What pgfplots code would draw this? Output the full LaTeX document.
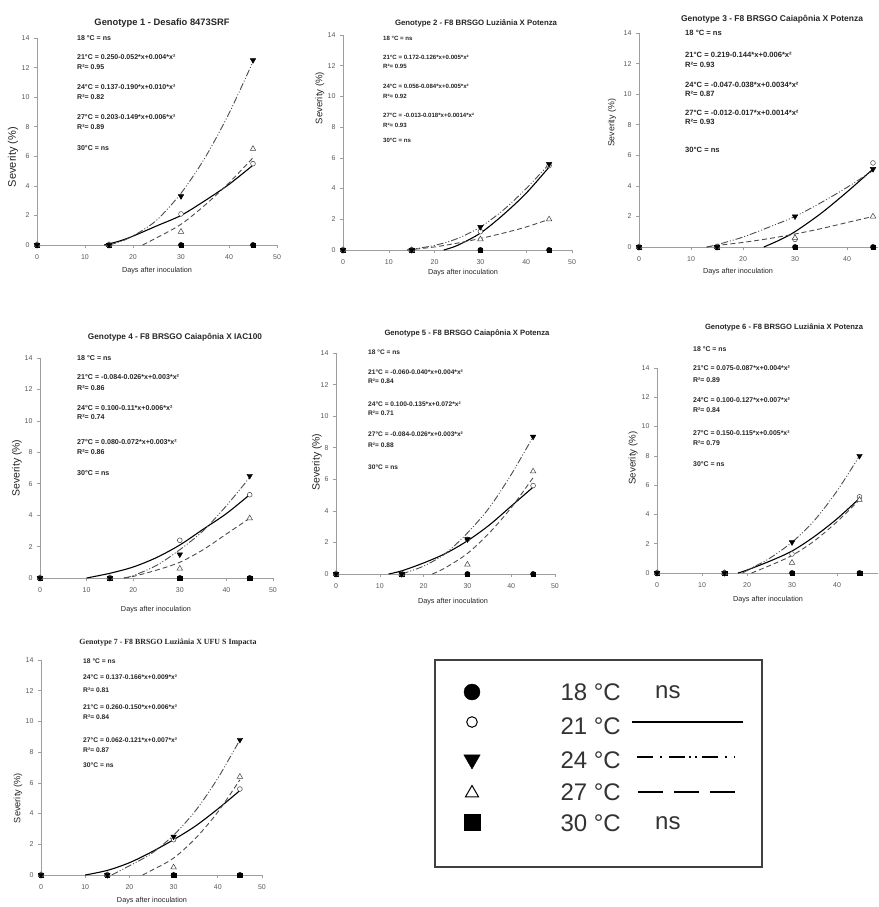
\documentclass[border=0pt]{standalone}
\usepackage{pgfplots}
\pgfplotsset{compat=1.18}
\usepackage{graphicx}
\usepackage{fontspec}
\setmainfont{Liberation Sans}
\newfontfamily\timesf{Liberation Serif}
\definecolor{axgray}{gray}{0.62}
\definecolor{txt}{gray}{0.15}
\definecolor{tick}{gray}{0.35}
\definecolor{c24}{gray}{0.3}
\definecolor{c27}{gray}{0.3}

\pgfplotsset{
 gen/.style={scale only axis, anchor=south west, xmin=0, xmax=50, ymin=0, ymax=14,
  axis x line=bottom, axis y line=left, axis line style={draw=axgray, line width=0.6pt, -},
  xtick={0,10,...,50}, ytick={0,2,...,14}, tick align=outside, major tick length=3pt,
  tick style={draw=axgray, line width=0.6pt},
  ticklabel style={font=\fontsize{7}{8}\selectfont, text=tick},
  xticklabel style={yshift=-3pt},
  yticklabel style={xshift=-1pt},
  /pgf/number format/assume math mode=true,
  clip=false},
 s21/.style={black, line width=1.1pt, smooth},
 s24/.style={c24, line width=0.9pt, smooth, dash pattern=on 7pt off 2pt on 1pt off 2pt on 1pt off 2pt},
 s27/.style={c27, line width=0.9pt, smooth, dash pattern=on 5pt off 3pt},
 m18/.style={only marks, mark=*, mark size=2.6pt, black},
 m30/.style={only marks, mark=square*, mark size=2.2pt, black},
 m21/.style={only marks, mark=*, mark size=2.4pt, mark options={fill=white, draw=gray!50!black, line width=0.5pt}},
 m24/.style={only marks, mark=triangle*, mark size=3.2pt, mark options={rotate=180, fill=black, draw=black}},
 m27/.style={only marks, mark=triangle*, mark size=3.2pt, mark options={fill=white, draw=gray!50!black, line width=0.5pt}},
}
\newcommand{\ann}[4]{\node[anchor=west, inner sep=0, font=\fontsize{#1}{#1}\selectfont\bfseries, text=txt] at (#2,#3) {#4};}
\newcommand{\ttl}[4]{\node[inner sep=0, text=txt] at (#1,#2) {\resizebox{#3pt}{!}{\bfseries #4}};}
\newcommand{\ylab}[3]{\node[inner sep=0, rotate=90, text=txt] at (#1,#2) {\resizebox{#3pt}{!}{Severity (\%)}};}
\newcommand{\xlab}[2]{\node[inner sep=0, text=txt] at (#1,#2) {\resizebox{70pt}{!}{Days after inoculation}};}
\newcommand{\zeros}{\addplot[m30] coordinates {(0,0)(15,0)(30,0)(45,0)};
 \addplot[m18] coordinates {(0,0)(15,0)(30,0)(45,0)};}

\begin{document}
\begin{tikzpicture}[x=1pt,y=-1pt]
\useasboundingbox (0,0) rectangle (878,907);
\clip (0,0) rectangle (878,907);
\fill[white] (0,0) rectangle (878,907);

% ---------- Panel 1
\begin{axis}[gen, at={(37pt,-245pt)}, width=240pt, height=207pt]
\addplot[s21] coordinates {(14,0)(17,0.25)(20,0.6)(25,1.3)(30,2.0)(35,3.0)(40,4.1)(45,5.4)};
\addplot[s24] coordinates {(15,0)(18,0.3)(21,0.8)(25,1.7)(30,3.5)(35,5.9)(40,8.9)(45,12.4)};
\addplot[s27] coordinates {(22,0)(25,0.5)(30,1.4)(35,2.7)(40,4.2)(45,5.9)};
\zeros
\addplot[m21] coordinates {(0,0)(15,0)(30,2.1)(45,5.5)};
\addplot[m27] coordinates {(0,0)(15,0)(30,0.9)(45,6.5)};
\addplot[m24] coordinates {(0,0)(15,0)(30,3.3)(45,12.5)};
\end{axis}
\ttl{162}{23}{135}{Genotype 1 - Desafio 8473SRF}
\ann{7}{77}{38}{18 °C = ns}
\ann{7}{77}{57}{21°C = 0.250-0.052*x+0.004*x²}
\ann{7}{77}{67}{R²= 0.95}
\ann{7}{77}{87}{24°C = 0.137-0.190*x+0.010*x²}
\ann{7}{77}{97}{R²= 0.82}
\ann{7}{77}{117}{27°C = 0.203-0.149*x+0.006*x²}
\ann{7}{77}{127}{R²= 0.89}
\ann{7}{77}{148}{30°C = ns}
\ylab{13}{157}{60}
\xlab{157}{271}

% ---------- Panel 2
\begin{axis}[gen, at={(343pt,-250pt)}, width=229pt, height=215pt]
\addplot[s21] coordinates {(22,0)(25,0.3)(30,1.1)(35,2.3)(40,3.7)(45,5.4)};
\addplot[s24] coordinates {(14,0)(20,0.3)(25,0.75)(30,1.5)(35,2.6)(40,4.0)(45,5.6)};
\addplot[s27] coordinates {(14,0)(20,0.2)(25,0.45)(30,0.75)(35,1.1)(40,1.5)(45,2.0)};
\zeros
\addplot[m21] coordinates {(0,0)(15,0)(30,1.2)(45,5.5)};
\addplot[m27] coordinates {(0,0)(15,0)(30,0.7)(45,2.0)};
\addplot[m24] coordinates {(0,0)(15,0)(30,1.5)(45,5.6)};
\end{axis}
\ttl{476}{23}{162}{Genotype 2 - F8 BRSGO Luziânia X Potenza}
\ann{6.1}{383}{38}{18 °C = ns}
\ann{6.1}{383}{57}{21°C = 0.172-0.126*x+0.005*x²}
\ann{6.1}{383}{66}{R²= 0.95}
\ann{6.1}{383}{86}{24°C = 0.056-0.084*x+0.005*x²}
\ann{6.1}{383}{96}{R²= 0.92}
\ann{6.1}{383}{115}{27°C = -0.013-0.018*x+0.0014*x²}
\ann{6.1}{383}{125}{R²= 0.93}
\ann{6.1}{383}{140}{30°C = ns}
\ylab{320}{98}{52}
\xlab{463}{273}

% ---------- Panel 3
\begin{axis}[gen, at={(639pt,-247pt)}, width=260pt, height=214pt, xtick={0,10,...,40}]
\addplot[s21] coordinates {(24,0)(27,0.45)(30,1.0)(35,2.2)(40,3.6)(45,5.1)};
\addplot[s24] coordinates {(13,0)(15,0.15)(20,0.65)(25,1.3)(30,2.0)(35,2.9)(40,3.9)(45,5.0)};
\addplot[s27] coordinates {(13,0)(15,0.1)(20,0.3)(25,0.55)(30,0.85)(35,1.2)(40,1.6)(45,2.0)};
\zeros
\addplot[m21] coordinates {(0,0)(15,0)(30,0.5)(45,5.5)};
\addplot[m27] coordinates {(0,0)(15,0)(30,0.6)(45,2.0)};
\addplot[m24] coordinates {(0,0)(15,0)(30,2.0)(45,5.1)};
\end{axis}
\ttl{772}{19}{182}{Genotype 3 - F8 BRSGO Caiapônia X Potenza}
\ann{7.6}{685}{33}{18 °C = ns}
\ann{7.6}{685}{55}{21°C = 0.219-0.144*x+0.006*x²}
\ann{7.6}{685}{65}{R²= 0.93}
\ann{7.6}{685}{85}{24°C = -0.047-0.038*x+0.0034*x²}
\ann{7.6}{685}{94}{R²= 0.87}
\ann{7.6}{685}{113}{27°C = -0.012-0.017*x+0.0014*x²}
\ann{7.6}{685}{122}{R²= 0.93}
\ann{7.6}{685}{150}{30°C = ns}
\ylab{612}{123}{48}
\xlab{738}{272}

% ---------- Panel 4
\begin{axis}[gen, at={(40pt,-578pt)}, width=233pt, height=220pt]
\addplot[s21] coordinates {(10,0)(15,0.3)(20,0.7)(25,1.3)(30,2.1)(35,3.1)(40,4.1)(45,5.3)};
\addplot[s24] coordinates {(18,0)(20,0.15)(25,0.8)(30,1.8)(35,3.0)(40,4.6)(45,6.4)};
\addplot[s27] coordinates {(18,0)(20,0.1)(25,0.5)(30,1.0)(35,1.8)(40,2.8)(45,3.8)};
\zeros
\addplot[m21] coordinates {(0,0)(15,0)(30,2.4)(45,5.3)};
\addplot[m27] coordinates {(0,0)(15,0)(30,0.6)(45,3.8)};
\addplot[m24] coordinates {(0,0)(15,0)(30,1.5)(45,6.5)};
\end{axis}
\ttl{175}{337}{174}{Genotype 4 - F8 BRSGO Caiapônia X IAC100}
\ann{7.1}{77}{358}{18 °C = ns}
\ann{7.1}{77}{377}{21°C = -0.084-0.026*x+0.003*x²}
\ann{7.1}{77}{388}{R²= 0.86}
\ann{7.1}{77}{408}{24°C = 0.100-0.11*x+0.006*x²}
\ann{7.1}{77}{417}{R²= 0.74}
\ann{7.1}{77}{442}{27°C = 0.080-0.072*x+0.003*x²}
\ann{7.1}{77}{452}{R²= 0.86}
\ann{7.1}{77}{473}{30°C = ns}
\ylab{17}{468}{57}
\xlab{156}{610}

% ---------- Panel 5
\begin{axis}[gen, at={(336pt,-574pt)}, width=219pt, height=221pt]
\addplot[s21] coordinates {(12,0)(15,0.2)(20,0.7)(25,1.3)(30,2.1)(35,3.1)(40,4.3)(45,5.5)};
\addplot[s24] coordinates {(15,0)(20,0.5)(25,1.3)(30,2.6)(35,4.2)(40,6.3)(45,8.7)};
\addplot[s27] coordinates {(22,0)(25,0.4)(30,1.3)(35,2.6)(40,4.2)(45,6.1)};
\zeros
\addplot[m21] coordinates {(0,0)(15,0)(30,2.2)(45,5.6)};
\addplot[m27] coordinates {(0,0)(15,0)(30,0.6)(45,6.5)};
\addplot[m24] coordinates {(0,0)(15,0)(30,2.2)(45,8.7)};
\end{axis}
\ttl{467}{333}{165}{Genotype 5 - F8 BRSGO Caiapônia X Potenza}
\ann{6.6}{368}{352}{18 °C = ns}
\ann{6.6}{368}{372}{21°C = -0.060-0.040*x+0.004*x²}
\ann{6.6}{368}{381}{R²= 0.84}
\ann{6.6}{368}{404}{24°C = 0.100-0.135*x+0.072*x²}
\ann{6.6}{368}{413}{R²= 0.71}
\ann{6.6}{368}{434}{27°C = -0.084-0.026*x+0.003*x²}
\ann{6.6}{368}{445}{R²= 0.88}
\ann{6.6}{368}{467}{30°C = ns}
\ylab{317}{462}{57}
\xlab{453}{602}

% ---------- Panel 6
\begin{axis}[gen, at={(657pt,-573pt)}, width=225pt, height=205pt, xtick={0,10,...,40}]
\addplot[s21] coordinates {(18,0)(20,0.2)(25,0.8)(30,1.5)(35,2.5)(40,3.7)(45,5.1)};
\addplot[s24] coordinates {(19,0)(22,0.5)(25,1.0)(30,2.1)(35,3.6)(40,5.6)(45,8.0)};
\addplot[s27] coordinates {(21,0)(25,0.5)(30,1.2)(35,2.2)(40,3.5)(45,5.0)};
\zeros
\addplot[m21] coordinates {(0,0)(15,0)(30,1.3)(45,5.2)};
\addplot[m27] coordinates {(0,0)(15,0)(30,0.7)(45,5.0)};
\addplot[m24] coordinates {(0,0)(15,0)(30,2.1)(45,8.0)};
\end{axis}
\ttl{784}{327}{158}{Genotype 6 - F8 BRSGO Luziânia X Potenza}
\ann{6.9}{693}{349}{18 °C = ns}
\ann{6.9}{693}{368}{21°C = 0.075-0.087*x+0.004*x²}
\ann{6.9}{693}{380}{R²= 0.89}
\ann{6.9}{693}{400}{24°C = 0.100-0.127*x+0.007*x²}
\ann{6.9}{693}{410}{R²= 0.84}
\ann{6.9}{693}{433}{27°C = 0.150-0.115*x+0.005*x²}
\ann{6.9}{693}{443}{R²= 0.79}
\ann{6.9}{693}{464}{30°C = ns}
\ylab{633}{458}{53}
\xlab{768}{600}

% ---------- Panel 7
\begin{axis}[gen, at={(41pt,-875pt)}, width=221pt, height=215pt]
\addplot[s21] coordinates {(10,0)(15,0.3)(20,0.8)(25,1.5)(30,2.3)(35,3.2)(40,4.3)(45,5.5)};
\addplot[s24] coordinates {(16,0)(20,0.6)(25,1.4)(30,2.6)(35,4.2)(40,6.3)(45,8.8)};
\addplot[s27] coordinates {(23,0)(25,0.3)(30,1.1)(35,2.4)(40,4.1)(45,6.2)};
\zeros
\addplot[m21] coordinates {(0,0)(15,0)(30,2.3)(45,5.6)};
\addplot[m27] coordinates {(0,0)(15,0)(30,0.5)(45,6.4)};
\addplot[m24] coordinates {(0,0)(15,0)(30,2.5)(45,8.8)};
\end{axis}
\node[inner sep=0, text=txt] at (168,643) {\resizebox{177pt}{!}{\timesf\bfseries Genotype 7 - F8 BRSGO Luziânia X UFU S Impacta}};
\ann{6.7}{83}{661}{18 °C = ns}
\ann{6.7}{83}{677}{24°C = 0.137-0.166*x+0.009*x²}
\ann{6.7}{83}{690}{R²= 0.81}
\ann{6.7}{83}{707}{21°C = 0.260-0.150*x+0.006*x²}
\ann{6.7}{83}{717}{R²= 0.84}
\ann{6.7}{83}{740}{27°C = 0.062-0.121*x+0.007*x²}
\ann{6.7}{83}{750}{R²= 0.87}
\ann{6.7}{83}{765}{30°C = ns}
\ylab{18}{798}{50}
\xlab{152}{901}

% ---------- Legend box
\begin{axis}[scale only axis, anchor=south west, at={(435pt,-867pt)}, width=327pt, height=207pt,
  xmin=0, xmax=327, ymin=0, ymax=207, xtick=\empty, ytick=\empty,
  axis line style={draw=black!75, line width=1.2pt}, clip=false]
\addplot[only marks, mark=*, mark size=8pt, black] coordinates {(37,175)};
\addplot[only marks, mark=*, mark size=5.3pt, mark options={fill=white, draw=black, line width=1pt}] coordinates {(37,145)};
\addplot[only marks, mark=triangle*, mark size=9.5pt, mark options={rotate=180, fill=black, draw=black}] coordinates {(37,107.5)};
\addplot[only marks, mark=triangle*, mark size=7.5pt, mark options={fill=white, draw=black, line width=1pt}] coordinates {(37,74)};
\addplot[only marks, mark=square*, mark size=8.3pt, black] coordinates {(37,45)};
\addplot[black, line width=2.6pt] coordinates {(197,145)(308,145)};
\addplot[black, line width=2.6pt, dash pattern=on 16pt off 7pt on 2pt off 7pt on 16pt off 4pt on 2pt off 4pt on 2pt off 5pt] coordinates {(202,110)(300,110)};
\addplot[black, line width=2.6pt, dash pattern=on 25pt off 11pt] coordinates {(203,75)(304,75)};
\node[anchor=east, inner sep=0, font=\fontsize{24}{26}\selectfont, text=black!80] at (axis cs:186,175) {18 °C};
\node[anchor=east, inner sep=0, font=\fontsize{24}{26}\selectfont, text=black!80] at (axis cs:186,141) {21 °C};
\node[anchor=east, inner sep=0, font=\fontsize{24}{26}\selectfont, text=black!80] at (axis cs:186,107) {24 °C};
\node[anchor=east, inner sep=0, font=\fontsize{24}{26}\selectfont, text=black!80] at (axis cs:186,75) {27 °C};
\node[anchor=east, inner sep=0, font=\fontsize{24}{26}\selectfont, text=black!80] at (axis cs:186,44) {30 °C};
\node[anchor=west, inner sep=0, font=\fontsize{24}{26}\selectfont, text=black!80] at (axis cs:220,175) {ns};
\node[anchor=west, inner sep=0, font=\fontsize{24}{26}\selectfont, text=black!80] at (axis cs:220,44) {ns};
\end{axis}
\end{tikzpicture}
\end{document}
